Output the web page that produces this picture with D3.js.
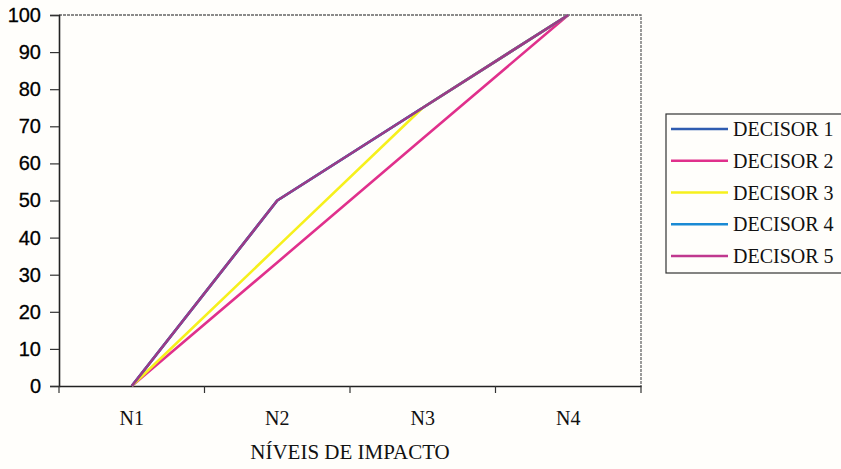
<!DOCTYPE html>
<html>
<head>
<meta charset="utf-8">
<script src="https://cdn.jsdelivr.net/npm/d3@7"></script>
<style>
  html, body { margin: 0; padding: 0; background: #fffefb; }
  svg { display: block; }
</style>
</head>
<body>
<svg id="chart" width="841" height="469"></svg>
<script>
// Impact levels and each decision-maker's value function
const levels = ["N1", "N2", "N3", "N4"];
const yTicks = [0, 10, 20, 30, 40, 50, 60, 70, 80, 90, 100];
const decisor1 = [0, 50, 75, 100];
const decisor2 = [0, 33.3, 66.7, 100];
const decisor3 = [0, 37.5, 75, 100];
const decisor4 = [0, 50, 75, 100];
const decisor5 = [0, 50, 75, 100];
const seriesNames = ["DECISOR 1", "DECISOR 2", "DECISOR 3", "DECISOR 4", "DECISOR 5"];
const seriesColors = ["#2f5cb0", "#e0308c", "#f6f01c", "#1a8ad4", "#a8347f"];
const xTitle = "NÍVEIS DE IMPACTO";

const series = [decisor1, decisor2, decisor3, decisor4, decisor5].map((v, i) => ({
  name: seriesNames[i], values: v, color: seriesColors[i]
}));

const svg = d3.select("#chart");
const plot = { left: 59, top: 15, right: 641, bottom: 386 };
const serif = "'Liberation Serif', 'Times New Roman', serif";

const x = d3.scaleBand().domain(levels).range([plot.left, plot.right]);
const y = d3.scaleLinear().domain([0, 100]).range([plot.bottom, plot.top]);

// plot frame (top and right edges are light)
svg.append("path")
  .attr("d", `M${plot.left},${plot.top}H${plot.right}V${plot.bottom}`)
  .attr("fill", "none").attr("stroke", "#666").attr("stroke-width", 1.3)
  .attr("stroke-dasharray", "3,1");

// y axis
const yAxis = svg.append("g")
  .attr("transform", `translate(${plot.left},0)`)
  .call(d3.axisLeft(y).tickValues(yTicks).tickSize(9).tickPadding(9));
yAxis.select(".domain").attr("stroke", "#222").attr("stroke-width", 1.6);
yAxis.selectAll(".tick line").attr("stroke", "#333").attr("stroke-width", 1.2);
yAxis.selectAll("text")
  .attr("font-family", "'Liberation Sans', Arial, sans-serif")
  .attr("font-size", 20).attr("fill", "#000")
  .attr("stroke", "#000").attr("stroke-width", 0.3);

// x axis with ticks between categories
const xAxis = svg.append("g")
  .attr("transform", `translate(0,${plot.bottom})`)
  .call(d3.axisBottom(x).tickSize(0).tickPadding(25));
xAxis.select(".domain").attr("stroke", "#222").attr("stroke-width", 1.6);
xAxis.selectAll("text")
  .attr("font-family", serif)
  .attr("font-size", 20).attr("fill", "#111");
const bounds = levels.map(d => x(d)).concat([x(levels[levels.length - 1]) + x.bandwidth()]);
xAxis.selectAll(".sep").data(bounds).join("line")
  .attr("class", "sep")
  .attr("x1", d => d).attr("x2", d => d)
  .attr("y1", 0).attr("y2", 7)
  .attr("stroke", "#333").attr("stroke-width", 1.2);

svg.append("text")
  .attr("x", (plot.left + plot.right) / 2).attr("y", 459)
  .attr("text-anchor", "middle")
  .attr("font-family", serif)
  .attr("font-size", 21).attr("fill", "#111")
  .text(xTitle);

// lines
const line = d3.line()
  .x((d, i) => x(levels[i]) + x.bandwidth() / 2)
  .y(d => y(d));

svg.append("g").selectAll("path").data(series).join("path")
  .attr("d", d => line(d.values))
  .attr("fill", "none")
  .attr("stroke", d => d.color)
  .attr("stroke-width", 2.6)
  .attr("stroke-opacity", (d, i) => i === 4 ? 0.92 : 1)
  .attr("stroke-linejoin", "round");

// legend
const lg = svg.append("g").attr("transform", "translate(666,114)");
lg.append("rect").attr("width", 178).attr("height", 159)
  .attr("fill", "#fffefb").attr("stroke", "#333").attr("stroke-width", 1.2);
const item = lg.selectAll(".item").data(series).join("g")
  .attr("class", "item")
  .attr("transform", (d, i) => `translate(0,${15 + i * 31.75})`);
item.append("line")
  .attr("x1", 5).attr("x2", 62).attr("y1", 0).attr("y2", 0)
  .attr("stroke", (d, i) => i === 4 ? "#c0388f" : d.color).attr("stroke-width", 2.4);
item.append("text")
  .attr("x", 67).attr("y", 7)
  .attr("font-family", serif)
  .attr("font-size", 20).attr("fill", "#111")
  .text(d => d.name);
</script>
</body>
</html>
